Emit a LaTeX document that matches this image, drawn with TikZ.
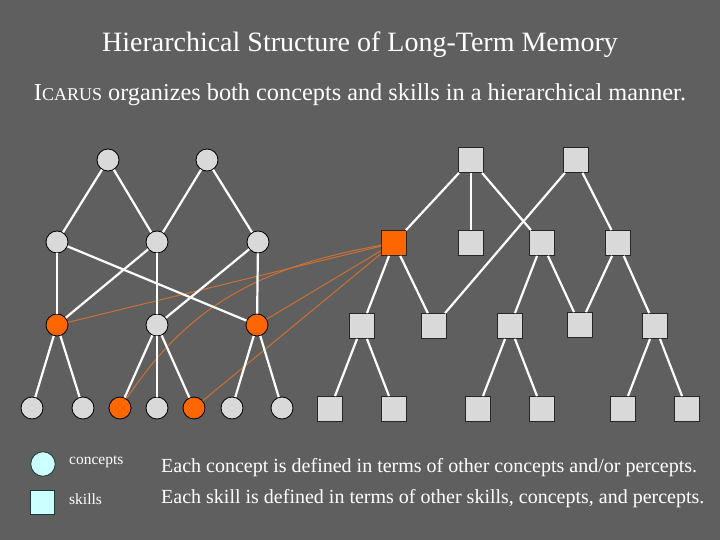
\documentclass[tikz,border=0pt]{standalone}
\usepackage{fontspec}
\setmainfont{Liberation Serif}
\usetikzlibrary{positioning}
\definecolor{slidebg}{RGB}{95,95,95}
\definecolor{nodegray}{RGB}{217,217,217}
\definecolor{hotorange}{RGB}{255,102,0}
\definecolor{linkorange}{RGB}{205,112,52}
\definecolor{legendcyan}{RGB}{204,255,255}
\definecolor{legendedge}{RGB}{30,56,56}

\begin{document}
\begin{tikzpicture}[
  x=1pt, y=-1pt,
  concept/.style={
    circle, draw=black, fill=nodegray,
    line width=0.8pt, inner sep=0pt,
    minimum size=22pt
  },
  skill/.style={
    rectangle, draw=black!85, fill=nodegray,
    line width=0.8pt, inner sep=0pt,
    minimum size=25pt
  },
  hot/.style={fill=hotorange},
  link/.style={draw=white, line width=2.2pt},
  uses/.style={draw=linkorange, line width=1pt},
  caption/.style={text=white, inner sep=0pt, font=\fontsize{20}{22}\selectfont},
  keytext/.style={text=white, inner sep=0pt, anchor=west, font=\fontsize{15.5}{17}\selectfont},
]
\fill[slidebg] (0,0) rectangle (720,540);
\useasboundingbox (0,0) rectangle (720,540);

% --- Titles ---
\node[caption, font=\fontsize{28}{32}\selectfont] (TITLE) at (360,45) {Hierarchical Structure of Long-Term Memory};
\node[caption, font=\fontsize{24.3}{27}\selectfont] (SUB) at (360,95) {I{\fontsize{18}{20}\selectfont CARUS} organizes both concepts and skills in a hierarchical manner.};

% --- Concepts ---
\node[concept] (C11) at (108,160) {};
\node[concept] (C12) at (207,160) {};

\node[concept] (C21) at (57,242) {};
\node[concept] (C22) at (157,242) {};
\node[concept] (C23) at (258,242) {};

\node[concept, hot] (C31) at (57,325) {};
\node[concept] (C32) at (157,325) {};
\node[concept, hot] (C33) at (257,325) {};

\node[concept] (C41) at (32,408) {};
\node[concept] (C42) at (83,408) {};
\node[concept, hot] (C43) at (120,408) {};
\node[concept] (C44) at (157,408) {};
\node[concept, hot] (C45) at (194,408) {};
\node[concept] (C46) at (232,408) {};
\node[concept] (C47) at (282,408) {};

% --- Skills ---
\node[skill] (S11) at (471,160) {};
\node[skill] (S12) at (576,160) {};

\node[skill, hot] (S21) at (394,243) {};
\node[skill] (S22) at (471,243) {};
\node[skill] (S23) at (542,243) {};
\node[skill] (S24) at (618,243) {};

\node[skill] (S31) at (362,326) {};
\node[skill] (S32) at (434,326) {};
\node[skill] (S33) at (510,326) {};
\node[skill] (S34) at (580,325) {};
\node[skill] (S35) at (655,326) {};

\node[skill] (S41) at (330,409) {};
\node[skill] (S42) at (394,409) {};
\node[skill] (S43) at (478,409) {};
\node[skill] (S44) at (542,409) {};
\node[skill] (S45) at (623,409) {};
\node[skill] (S46) at (687,409) {};

% --- Skill uses concepts ---
\draw[uses] (C31) -- (S21);
\draw[uses] (C43) .. controls (180,320) and (240,270) .. (S21);
\draw[uses] (C33) -- (S21);
\draw[uses] (C45) -- (S21);

% --- Concept links ---
\draw[link] (C11) -- (C21);
\draw[link] (C11) -- (C22);
\draw[link] (C12) -- (C22);
\draw[link] (C12) -- (C23);
\draw[link] (C21) -- (C31);
\draw[link] (C21) -- (C33);
\draw[link] (C22) -- (C31);
\draw[link] (C22) -- (C32);
\draw[link] (C23) -- (C32);
\draw[link] (C23) -- (C33);
\draw[link] (C31) -- (C41);
\draw[link] (C31) -- (C42);
\draw[link] (C32) -- (C43);
\draw[link] (C32) -- (C44);
\draw[link] (C32) -- (C45);
\draw[link] (C33) -- (C46);
\draw[link] (C33) -- (C47);

% --- Skill links ---
\draw[link] (S11) -- (S21);
\draw[link] (S11) -- (S22);
\draw[link] (S11) -- (S23);
\draw[link] (S12) -- (S32);
\draw[link] (S12) -- (S24);
\draw[link] (S21) -- (S31);
\draw[link] (S21) -- (S32);
\draw[link] (S23) -- (S33);
\draw[link] (S23) -- (S34);
\draw[link] (S24) -- (S34);
\draw[link] (S24) -- (S35);
\draw[link] (S31) -- (S41);
\draw[link] (S31) -- (S42);
\draw[link] (S33) -- (S43);
\draw[link] (S33) -- (S44);
\draw[link] (S35) -- (S45);
\draw[link] (S35) -- (S46);

% --- Legend ---
\node[concept, fill=legendcyan, draw=legendedge, minimum size=24.5pt] (KEYC) at (43,464) {};
\node[skill, fill=legendcyan, draw=legendedge, minimum size=24pt] (KEYS) at (42.5,502) {};
\node[keytext] (KEYCT) at (69,462) {concepts};
\node[keytext] (KEYST) at (69,499) {skills};

\node[caption, anchor=west] (NOTEC) at (161,468) {Each concept is defined in terms of other concepts and/or percepts.};
\node[caption, anchor=west] (NOTES) at (161,499) {Each skill is defined in terms of other skills, concepts, and percepts.};

\end{tikzpicture}
\end{document}
